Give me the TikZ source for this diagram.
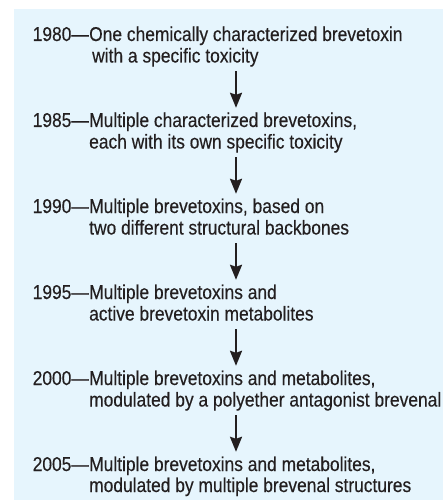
\documentclass[tikz,border=0pt]{standalone}
\usepackage{fontspec}
\setmainfont[FakeStretch=0.87,FakeBold=0.3]{Liberation Sans}
\usetikzlibrary{arrows.meta}
\definecolor{bgblue}{RGB}{230,245,253}
\definecolor{ink}{RGB}{35,31,32}
\begin{document}
\begin{tikzpicture}[x=1pt,y=-1pt,
  txt/.style={anchor=base west,inner sep=0pt,text height=14pt,text depth=4pt,font=\fontsize{20pt}{21pt}\selectfont,text=ink},
  yr/.style={txt,anchor=base east},
  flow/.style={draw=ink,line width=2.3pt,-{Stealth[length=15pt,width=12pt,inset=2pt]},shorten <=4.5pt,shorten >=5pt}]
\useasboundingbox (0,0) rectangle (443,500);
\fill[bgblue] (14,9) rectangle (443,500);
\coordinate (ax) at (236,0);
% 1980
\node[yr]  (y1) at (89,41) {1980\textemdash};
\node[txt] (a1) at (89,41) {One chemically characterized brevetoxin};
\node[txt] (b1) at (92,62.5) {with a specific toxicity};
% 1985
\node[yr]  (y2) at (89,127) {1985\textemdash};
\node[txt] (a2) at (89,127) {Multiple characterized brevetoxins,};
\node[txt] (b2) at (89,148.5) {each with its own specific toxicity};
% 1990
\node[yr]  (y3) at (89,213) {1990\textemdash};
\node[txt] (a3) at (89,213) {Multiple brevetoxins, based on};
\node[txt] (b3) at (89,234.5) {two different structural backbones};
% 1995
\node[yr]  (y4) at (89,299) {1995\textemdash};
\node[txt] (a4) at (89,299) {Multiple brevetoxins and};
\node[txt] (b4) at (89,320.5) {active brevetoxin metabolites};
% 2000
\node[yr]  (y5) at (89,385) {2000\textemdash};
\node[txt] (a5) at (89,385) {Multiple brevetoxins and metabolites,};
\node[txt] (b5) at (89,406.5) {modulated by a polyether antagonist brevenal};
% 2005
\node[yr]  (y6) at (89,471) {2005\textemdash};
\node[txt] (a6) at (89,471) {Multiple brevetoxins and metabolites,};
\node[txt] (b6) at (89,492) {modulated by multiple brevenal structures};
% arrows
\draw[flow] (b1.south -| ax) -- (a2.north -| ax);
\draw[flow] (b2.south -| ax) -- (a3.north -| ax);
\draw[flow] (b3.south -| ax) -- (a4.north -| ax);
\draw[flow] (b4.south -| ax) -- (a5.north -| ax);
\draw[flow] (b5.south -| ax) -- (a6.north -| ax);
\end{tikzpicture}
\end{document}
